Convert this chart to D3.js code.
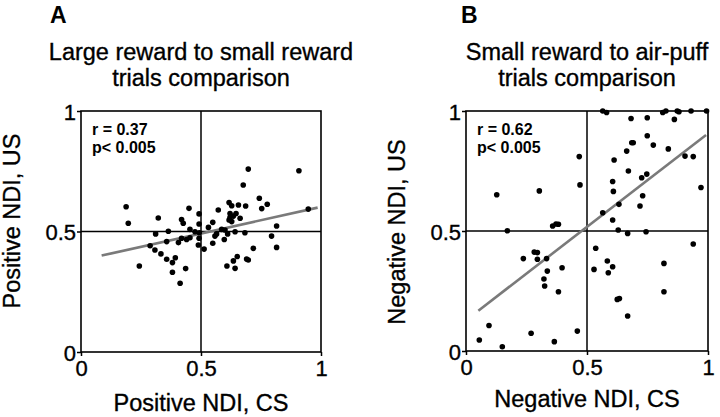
<!DOCTYPE html>
<html>
<head>
<meta charset="utf-8">
<script src="https://cdn.jsdelivr.net/npm/d3@7"></script>
<style>
  body { margin: 0; background: #fff; }
  svg { display: block; font-family: "Liberation Sans", Arial, sans-serif; }
  text.heavy { stroke: #000; stroke-width: 0.35px; }
</style>
</head>
<body>
<svg id="chart" width="720" height="417"></svg>
<script>
// Panel A: large reward -> small reward
const csA = [0.188,0.197,0.322,0.45,0.492,0.419,0.426,0.492,0.531,0.549,0.364,0.311,0.454,0.475,0.493,0.419,0.44,0.454,0.357,0.406,0.492,0.489,0.513,0.549,0.288,0.308,0.333,0.357,0.381,0.393,0.243,0.381,0.436,0.413,0.697,0.908,0.676,0.743,0.776,0.753,0.617,0.628,0.656,0.686,0.572,0.947,0.621,0.646,0.635,0.621,0.617,0.628,0.663,0.815,0.586,0.6,0.611,0.558,0.565,0.642,0.683,0.794,0.597,0.718,0.815,0.651,0.635,0.69,0.697,0.608,0.642];
const usA = [0.603,0.534,0.556,0.596,0.573,0.55,0.534,0.531,0.517,0.538,0.501,0.49,0.509,0.499,0.495,0.472,0.467,0.474,0.458,0.454,0.472,0.444,0.427,0.451,0.441,0.423,0.407,0.385,0.371,0.391,0.357,0.331,0.346,0.285,0.759,0.752,0.693,0.638,0.613,0.595,0.62,0.607,0.61,0.606,0.589,0.593,0.575,0.575,0.564,0.559,0.548,0.541,0.555,0.523,0.509,0.506,0.49,0.481,0.49,0.499,0.495,0.481,0.467,0.43,0.434,0.396,0.378,0.386,0.382,0.357,0.347];
const fitA = [[0.086, 0.40], [0.986, 0.599]];

// Panel B: small reward -> air-puff
const csB = [0.565,0.581,0.682,0.749,0.813,0.826,0.861,0.873,0.88,0.93,0.994,0.749,0.685,0.691,0.774,0.664,0.836,0.905,0.939,0.612,0.671,0.726,0.747,0.606,0.609,0.73,0.632,0.719,0.565,0.971,0.606,0.468,0.471,0.629,0.668,0.744,0.536,0.584,0.606,0.529,0.588,0.818,0.939,0.625,0.634,0.818,0.668,0.127,0.303,0.171,0.358,0.372,0.382,0.237,0.282,0.295,0.295,0.333,0.336,0.322,0.397,0.325,0.382,0.095,0.055,0.15,0.269,0.365,0.46];
const usB = [1.0,0.994,0.969,0.972,0.994,1.0,0.965,1.0,0.997,1.0,1.0,0.897,0.868,0.868,0.858,0.833,0.842,0.812,0.81,0.796,0.75,0.722,0.737,0.706,0.665,0.647,0.611,0.604,0.576,0.681,0.546,0.81,0.692,0.504,0.49,0.497,0.428,0.375,0.351,0.34,0.326,0.365,0.446,0.215,0.219,0.247,0.146,0.651,0.667,0.501,0.521,0.529,0.528,0.385,0.412,0.41,0.382,0.385,0.333,0.3,0.347,0.271,0.247,0.106,0.046,0.018,0.074,0.039,0.083];
const fitB = [[0.051, 0.168], [0.992, 0.90]];

const tickValues = [0, 0.5, 1];
const tickLabels = ["0", "0.5", "1"];
const panelLetters = ["A", "B"];
const titles = [["Large reward to small reward", "trials comparison"], ["Small reward to air-puff", "trials comparison"]];
const xTitles = ["Positive NDI, CS", "Negative NDI, CS"];
const yTitles = ["Positive NDI, US", "Negative NDI, US"];
const statsR = ["r = 0.37", "r = 0.62"];
const statsP = ["p< 0.005", "p< 0.005"];

const panels = [
  {cs: csA, us: usA, fit: fitA, box: {x0: 81, x1: 321, y0: 111, y1: 352}, letterX: 50, yTitleX: 20, yTitleY: 221, xTitleY: 411},
  {cs: csB, us: usB, fit: fitB, box: {x0: 466, x1: 708, y0: 111, y1: 351}, letterX: 461, yTitleX: 405, yTitleY: 232, xTitleY: 407}
];

const svg = d3.select("#chart");

panels.forEach((p, i) => {
  const b = p.box;
  const x = d3.scaleLinear().domain([0, 1]).range([b.x0, b.x1]);
  const y = d3.scaleLinear().domain([0, 1]).range([b.y1, b.y0]);
  const g = svg.append("g");
  const cx = (b.x0 + b.x1) / 2;

  // panel letter + title
  g.append("text").attr("x", p.letterX).attr("y", 23)
    .attr("font-size", 23).attr("font-weight", "bold").text(panelLetters[i]);
  g.selectAll(".title").data(titles[i]).join("text")
    .attr("class", "heavy")
    .attr("x", cx).attr("y", (d, k) => 60 + k * 26)
    .attr("text-anchor", "middle").attr("font-size", 23.5).text(d => d);

  // frame and quadrant lines
  g.append("rect").attr("x", b.x0).attr("y", b.y0)
    .attr("width", b.x1 - b.x0).attr("height", b.y1 - b.y0)
    .attr("fill", "none").attr("stroke", "#000").attr("stroke-width", 1.6);
  g.append("line").attr("x1", x(0.5)).attr("x2", x(0.5)).attr("y1", b.y0).attr("y2", b.y1)
    .attr("stroke", "#000").attr("stroke-width", 1.5);
  g.append("line").attr("x1", b.x0).attr("x2", b.x1).attr("y1", y(0.5)).attr("y2", y(0.5))
    .attr("stroke", "#000").attr("stroke-width", 1.6);

  // axes
  const xAxis = d3.axisBottom(x).tickValues(tickValues).tickFormat((d, k) => tickLabels[k])
    .tickSizeInner(4).tickSizeOuter(0).tickPadding(4);
  const yAxis = d3.axisLeft(y).tickValues(tickValues).tickFormat((d, k) => tickLabels[k])
    .tickSizeInner(4).tickSizeOuter(0).tickPadding(1);
  const xg = g.append("g").attr("transform", `translate(0,${b.y1})`).call(xAxis);
  const yg = g.append("g").attr("transform", `translate(${b.x0},0)`).call(yAxis);
  [xg, yg].forEach(a => {
    a.select(".domain").remove();
    a.selectAll("line").attr("stroke", "#000").attr("stroke-width", 1.5);
    a.selectAll("text").attr("class", "heavy").attr("font-size", 22)
      .attr("font-family", "Liberation Sans, Arial, sans-serif").attr("fill", "#000");
  });
  xg.selectAll("text").attr("dy", null).attr("y", 24);
  yg.selectAll("text").attr("dy", null).attr("y", 8);

  // axis titles
  g.append("text").attr("class", "heavy").attr("x", cx).attr("y", p.xTitleY)
    .attr("text-anchor", "middle").attr("font-size", 23.5).text(xTitles[i]);
  g.append("text").attr("class", "heavy")
    .attr("transform", `translate(${p.yTitleX},${p.yTitleY}) rotate(-90)`)
    .attr("text-anchor", "middle").attr("font-size", 23.5).text(yTitles[i]);

  // stats
  g.append("text").attr("x", b.x0 + 11).attr("y", 135)
    .attr("font-size", 16).attr("font-weight", "bold").text(statsR[i]);
  g.append("text").attr("x", b.x0 + 11).attr("y", 153)
    .attr("font-size", 16).attr("font-weight", "bold").text(statsP[i]);

  // regression line
  g.append("line")
    .attr("x1", x(p.fit[0][0])).attr("y1", y(p.fit[0][1]))
    .attr("x2", x(p.fit[1][0])).attr("y2", y(p.fit[1][1]))
    .attr("stroke", "#7a7a7a").attr("stroke-width", 2.6);

  // points
  g.selectAll(".pt").data(p.cs.map((v, k) => [v, p.us[k]])).join("circle")
    .attr("cx", d => x(d[0])).attr("cy", d => y(d[1])).attr("r", 2.8).attr("fill", "#000");
});
</script>
</body>
</html>
